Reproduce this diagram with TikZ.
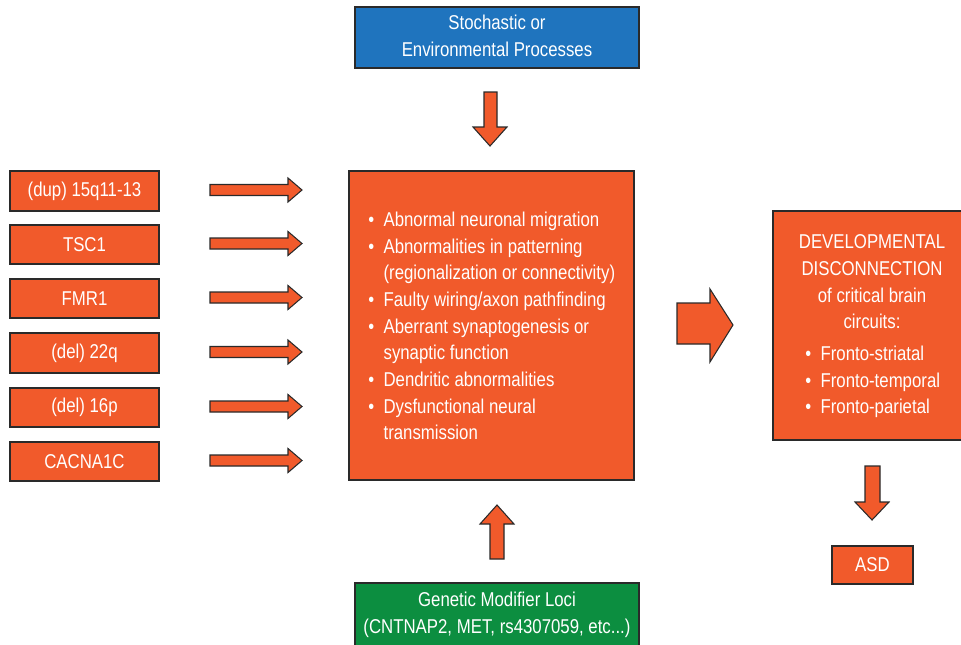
\documentclass[tikz,border=0pt]{standalone}
\usepackage{fontspec}
\setmainfont{Liberation Sans}[FakeStretch=0.84]
\usetikzlibrary{fit}
\definecolor{asdorange}{HTML}{F15A2B}
\definecolor{asdblue}{HTML}{1F74BE}
\definecolor{asdgreen}{HTML}{0C8E40}
\definecolor{edge}{HTML}{2A2A2A}
\newcommand{\bul}{\makebox[11.5pt][l]{\textbullet}}
\newcommand{\ind}{\hspace*{11.5pt}}
\tikzset{
  box/.style={draw=edge, line width=0.9pt, fill=asdorange, inner sep=0pt, text=white, align=center},
  bluebox/.style={box, fill=asdblue},
  greenbox/.style={box, fill=asdgreen},
  blockarrow/.style={draw=edge, line width=0.8pt, fill=asdorange, line join=miter},
  txt/.style={text=white, inner sep=0pt, font=\fontsize{15}{20}\selectfont}
}
\begin{document}
\begin{tikzpicture}[x=0.75pt, y=-0.75pt]
\useasboundingbox (0,0) rectangle (961,644);
% top box
\node[bluebox, fit={(355,7) (639,68)}] (env) {};
\node[txt, align=center] at (497,36) {Stochastic or\\Environmental Processes};
% central box
\node[box, fit={(349,171) (634,480)}] (mech) {};
\node[txt, align=left, anchor=west] at (368,326) {\bul Abnormal neuronal migration\\
\bul Abnormalities in patterning\\
\ind(regionalization or connectivity)\\
\bul Faulty wiring/axon pathfinding\\
\bul Aberrant synaptogenesis or\\
\ind synaptic function\\
\bul Dendritic abnormalities\\
\bul Dysfunctional neural\\
\ind transmission};
% bottom green box
\node[greenbox, fit={(355,583) (639,652)}] (mod) {};
\node[txt, align=center] at (497,615) {Genetic Modifier Loci\\(CNTNAP2, MET, rs4307059, etc...)};
% left gene boxes
\foreach \i/\t/\b/\lab in {1/171/211/{(dup) 15q11-13},2/225/264/{TSC1},3/279/318/{FMR1},4/333/373/{(del) 22q},5/388/427/{(del) 16p},6/442/481/{CACNA1C}}{
  \node[box, fit={(10,\t) (159,\b)}] (g\i) {};
  \node[txt] at (g\i.center) {\lab};
  \pgfmathsetmacro{\yc}{(\t+\b)/2-1}
  \draw[blockarrow] (210,\yc-5.5) -- (288,\yc-5.5) -- (288,\yc-12) -- (302,\yc) -- (288,\yc+12) -- (288,\yc+5.5) -- (210,\yc+5.5) -- cycle;
}
% top down arrow
\draw[blockarrow] (484,92) -- (497,92) -- (497,127) -- (507,127) -- (490,146) -- (473,127) -- (484,127) -- cycle;
% bottom up arrow
\draw[blockarrow] (490,559) -- (504,559) -- (504,524) -- (514,524) -- (497,505) -- (480,524) -- (490,524) -- cycle;
% big right arrow
\draw[blockarrow] (677,303) -- (710,303) -- (710,289) -- (733,325) -- (710,362) -- (710,344) -- (677,344) -- cycle;
% right box
\node[box, fit={(773,211) (971,440)}] (disc) {};
\node[txt, align=center] at (872,282) {DEVELOPMENTAL\\DISCONNECTION\\of critical brain\\circuits:};
\node[txt, align=left, anchor=west] at (805,382) {\bul Fronto-striatal\\\bul Fronto-temporal\\\bul Fronto-parietal};
% right down arrow
\draw[blockarrow] (865,466) -- (880,466) -- (880,502) -- (889,502) -- (872,520) -- (855,502) -- (865,502) -- cycle;
% ASD box
\node[box, fit={(832,546) (913,584)}] (asd) {};
\node[txt] at (asd.center) {ASD};
\end{tikzpicture}
\end{document}
